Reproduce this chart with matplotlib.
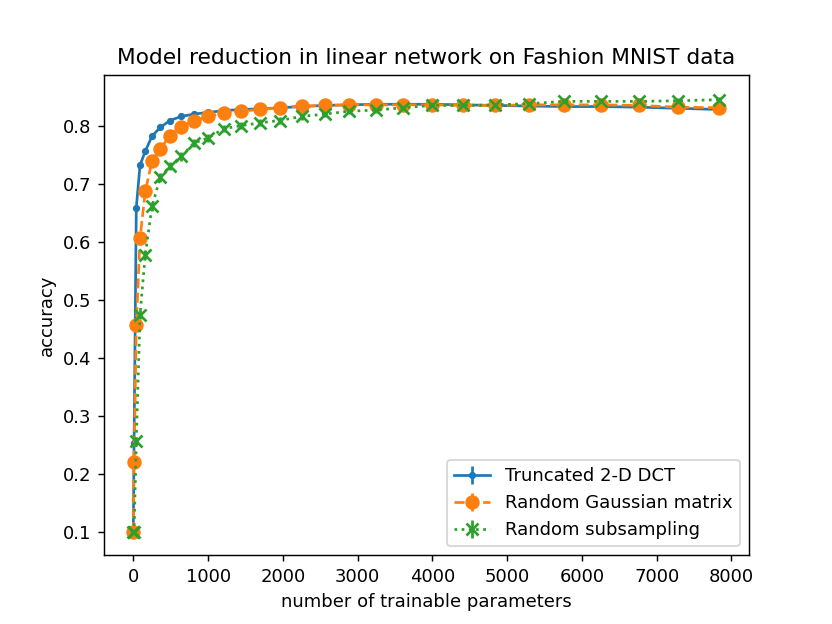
import numpy as np
import matplotlib
matplotlib.use("Agg")
import matplotlib.pyplot as plt

# number of trainable parameters (10 * k^2)
n_params = [0, 10, 40, 90, 160, 250, 360, 490, 640, 810, 1000, 1210, 1440, 1690,
            1960, 2250, 2560, 2890, 3240, 3610, 4000, 4410, 4840, 5290, 5760,
            6250, 6760, 7290, 7840]

acc_dct = [0.100, 0.254, 0.660, 0.733, 0.757, 0.783, 0.798, 0.810, 0.817, 0.821,
           0.824, 0.827, 0.829, 0.830, 0.832, 0.834, 0.836, 0.837, 0.838, 0.838,
           0.838, 0.837, 0.836, 0.835, 0.834, 0.834, 0.833, 0.831, 0.829]
err_dct = [0.001, 0.004, 0.003, 0.002, 0.002, 0.002, 0.002, 0.001, 0.001, 0.001,
           0.001, 0.001, 0.001, 0.001, 0.001, 0.001, 0.001, 0.001, 0.001, 0.001,
           0.001, 0.001, 0.001, 0.001, 0.001, 0.001, 0.001, 0.001, 0.001]

acc_gauss = [0.100, 0.222, 0.457, 0.607, 0.688, 0.740, 0.761, 0.784, 0.799, 0.810,
             0.817, 0.823, 0.826, 0.829, 0.832, 0.835, 0.836, 0.837, 0.837, 0.837,
             0.837, 0.836, 0.836, 0.837, 0.837, 0.837, 0.836, 0.833, 0.832]
err_gauss = [0.001, 0.006, 0.006, 0.005, 0.004, 0.003, 0.003, 0.003, 0.002, 0.002,
             0.002, 0.002, 0.002, 0.002, 0.002, 0.002, 0.002, 0.002, 0.002, 0.002,
             0.002, 0.002, 0.002, 0.002, 0.002, 0.002, 0.002, 0.002, 0.002]

acc_sub = [0.100, 0.100, 0.257, 0.475, 0.579, 0.662, 0.712, 0.731, 0.748, 0.771,
           0.780, 0.796, 0.801, 0.806, 0.810, 0.817, 0.821, 0.826, 0.828, 0.832,
           0.836, 0.836, 0.837, 0.839, 0.843, 0.843, 0.843, 0.844, 0.846]
err_sub = [0.001, 0.002, 0.006, 0.008, 0.008, 0.008, 0.008, 0.007, 0.007, 0.007,
           0.007, 0.006, 0.006, 0.006, 0.006, 0.006, 0.005, 0.005, 0.005, 0.005,
           0.005, 0.005, 0.005, 0.005, 0.005, 0.005, 0.005, 0.005, 0.005]

fig = plt.figure(figsize=(6.4, 4.8), dpi=130)
plt.errorbar(n_params, acc_dct, yerr=err_dct, fmt='.-', color='tab:blue',
             label='Truncated 2-D DCT')
plt.errorbar(n_params, acc_gauss, yerr=err_gauss, fmt='o--', color='tab:orange',
             markersize=7, label='Random Gaussian matrix')
plt.errorbar(n_params, acc_sub, yerr=err_sub, fmt='x:', color='tab:green',
             markersize=7, markeredgewidth=1.5, label='Random subsampling')
plt.xlabel("number of trainable parameters")
plt.ylabel("accuracy")
plt.title("Model reduction in linear network on Fashion MNIST data")
plt.legend(loc='lower right')
plt.savefig("out.png", dpi=130)
